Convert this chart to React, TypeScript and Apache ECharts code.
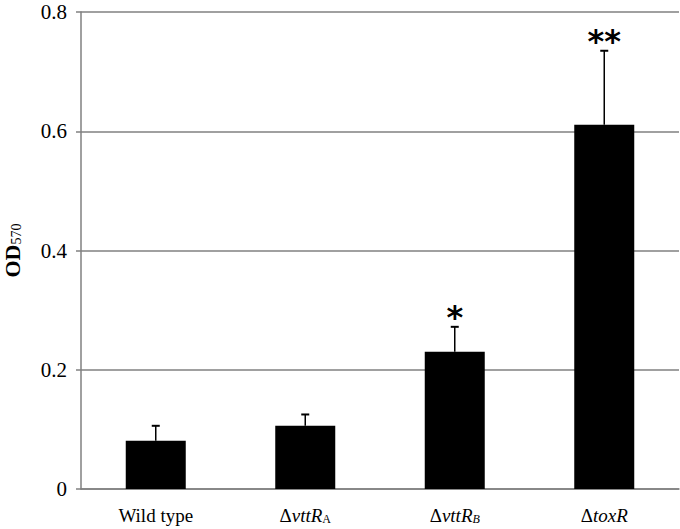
import React, { useEffect, useRef } from "react";
import * as echarts from "echarts";

const categories = ["Wild type", "ΔvttR_A", "ΔvttR_B", "ΔtoxR"];
const categoryLabels = [
  "Wild type",
  "{d|Δ}{i|vttR}{s|A}",
  "{d|Δ}{i|vttR}{si|B}",
  "{d|Δ}{i|toxR}",
];
const means = [0.081, 0.106, 0.23, 0.611];
const errors = [0.025, 0.019, 0.042, 0.124];
const stars = ["", "", "*", "**"];
const yTicks = { min: 0, max: 0.8, interval: 0.2 };

export default function App() {
  const ref = useRef<HTMLDivElement>(null);
  useEffect(() => {
    if (!ref.current) return;
    const chart = echarts.init(ref.current, undefined, { renderer: "svg" });
    const serif = "'Liberation Serif', 'Times New Roman', serif";
    chart.setOption({
      animation: false,
      backgroundColor: "#ffffff",
      grid: {
        left: 81,
        right: 1,
        top: 12,
        bottom: 40,
        containLabel: false,
        outerBoundsMode: "none",
      },
      xAxis: {
        type: "category",
        data: categories,
        axisLine: { lineStyle: { color: "#808080", width: 1.5 } },
        axisTick: { show: false },
        axisLabel: {
          interval: 0,
          margin: 17,
          fontFamily: serif,
          fontSize: 19,
          color: "#000",
          formatter: (_v: string, idx: number) => categoryLabels[idx],
          rich: {
            d: { fontFamily: serif, fontSize: 19, lineHeight: 19, verticalAlign: "top", color: "#000" },
            i: { fontFamily: serif, fontSize: 19, lineHeight: 19, verticalAlign: "top", fontStyle: "italic", color: "#000" },
            s: { fontFamily: serif, fontSize: 12, lineHeight: 12, color: "#000", verticalAlign: "bottom", padding: [8, 0, 0, 0] },
            si: { fontFamily: serif, fontSize: 12, lineHeight: 12, fontStyle: "italic", color: "#000", verticalAlign: "bottom", padding: [8, 0, 0, 0] },
          },
        },
      },
      yAxis: {
        type: "value",
        min: yTicks.min,
        max: yTicks.max,
        interval: yTicks.interval,
        name: "{a|OD}{b|570}",
        nameLocation: "middle",
        nameRotate: 90,
        nameGap: 58,
        nameTextStyle: {
          rich: {
            a: { fontFamily: serif, fontSize: 22, lineHeight: 22, verticalAlign: "top", fontWeight: "bold", color: "#000" },
            b: { fontFamily: serif, fontSize: 14, lineHeight: 14, color: "#000", verticalAlign: "bottom", padding: [12, 0, 0, 0] },
          },
        },
        axisLine: { show: true, lineStyle: { color: "#808080", width: 1.5 } },
        axisTick: { show: true, length: 5, lineStyle: { color: "#808080", width: 1.5 } },
        axisLabel: {
          margin: 14,
          fontFamily: serif,
          fontSize: 21,
          lineHeight: 18,
          color: "#000",
          formatter: (v: number) => (v === 0 ? "0" : v.toFixed(1)),
        },
        splitLine: { show: true, lineStyle: { color: "#808080", width: 1.5 } },
      },
      series: [
        {
          type: "bar",
          data: means,
          barWidth: 60,
          itemStyle: { color: "#000" },
          z: 2,
        },
        {
          type: "custom",
          z: 3,
          data: means.map((m, i) => [i, m, errors[i]]),
          renderItem: (params: any, api: any) => {
            const i = api.value(0);
            const m = api.value(1);
            const e = api.value(2);
            const base = api.coord([i, m]);
            const top = api.coord([i, m + e]);
            const children: any[] = [
              {
                type: "line",
                shape: { x1: base[0], y1: base[1], x2: top[0], y2: top[1] },
                style: { stroke: "#000", lineWidth: 1.5 },
              },
              {
                type: "line",
                shape: { x1: top[0] - 4, y1: top[1], x2: top[0] + 4, y2: top[1] },
                style: { stroke: "#000", lineWidth: 2 },
              },
            ];
            const s = stars[params.dataIndex];
            if (s) {
              children.push({
                type: "text",
                x: top[0],
                y: top[1] + 6,
                style: {
                  text: s,
                  fontFamily: "'DejaVu Sans', sans-serif",
                  fontWeight: "bold",
                  fontSize: 32,
                  fill: "#000",
                  align: "center",
                  verticalAlign: "bottom",
                },
              });
            }
            return { type: "group", children };
          },
        },
      ],
    });
    return () => chart.dispose();
  }, []);
  return (
    <div
      ref={ref}
      style={{ position: "fixed", left: 0, top: 0, width: 680, height: 529 }}
    />
  );
}
